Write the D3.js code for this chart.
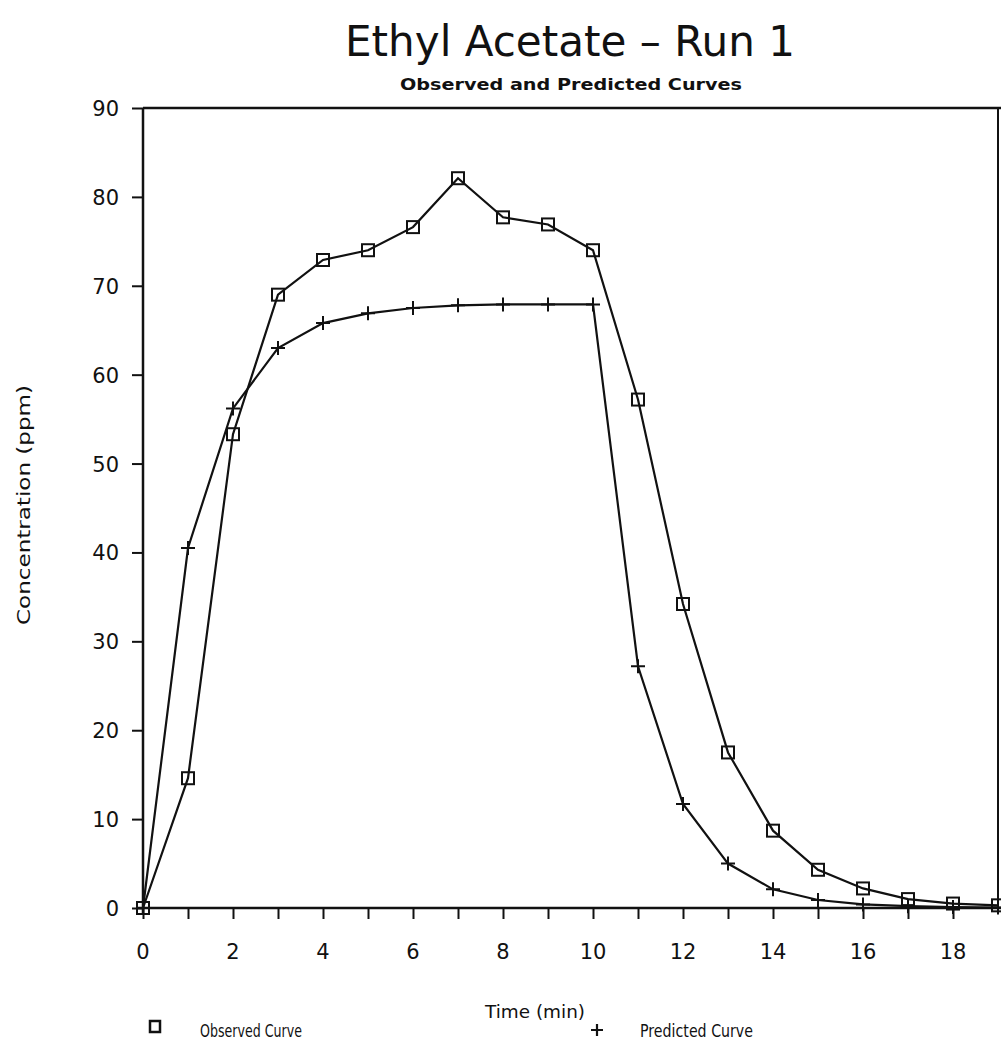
<!DOCTYPE html>
<html>
<head>
<meta charset="utf-8">
<script src="https://cdn.jsdelivr.net/npm/d3@7"></script>
<style>
  body { margin: 0; background: #fff; }
  text { fill: #111; font-family: "DejaVu Sans", sans-serif; }
</style>
</head>
<body>
<svg id="chart"></svg>
<script>
// Time points (min)
const times = [0, 1, 2, 3, 4, 5, 6, 7, 8, 9, 10, 11, 12, 13, 14, 15, 16, 17, 18, 19];
// Observed concentrations (ppm)
const observed = [0, 14.6, 53.3, 69.0, 72.9, 74.0, 76.6, 82.1, 77.7, 76.9, 74.0, 57.2, 34.2, 17.5, 8.7, 4.3, 2.2, 1.0, 0.5, 0.3];
// Predicted concentrations (ppm)
const predicted = [0, 40.5, 56.2, 63.0, 65.8, 66.9, 67.5, 67.8, 67.9, 67.9, 67.9, 27.2, 11.7, 5.0, 2.1, 0.9, 0.4, 0.2, 0.1, 0.05];

const xTicks = [0, 1, 2, 3, 4, 5, 6, 7, 8, 9, 10, 11, 12, 13, 14, 15, 16, 17, 18];
const xLabels = [0, 2, 4, 6, 8, 10, 12, 14, 16, 18];
const yTicks = [0, 10, 20, 30, 40, 50, 60, 70, 80, 90];

const config = {
    width: 1001,
    height: 1048,
    margin: { top: 108, right: 3, bottom: 140, left: 143 }
};

const innerW = config.width - config.margin.left - config.margin.right;
const innerH = config.height - config.margin.top - config.margin.bottom;

const svg = d3.select('#chart')
    .attr('width', config.width)
    .attr('height', config.height);

const chart = svg.append('g')
    .attr('transform', `translate(${config.margin.left},${config.margin.top})`);

// Scales
const xScale = d3.scaleLinear().domain([0, 19]).range([0, innerW]);
const yScale = d3.scaleLinear().domain([0, 90]).range([innerH, 0]);

// Frame (top and right sides)
chart.append('line')
    .attr('x1', 0).attr('x2', innerW + 3)
    .attr('y1', 0).attr('y2', 0)
    .attr('stroke', '#111').attr('stroke-width', 2.5);
chart.append('line')
    .attr('x1', innerW).attr('x2', innerW)
    .attr('y1', 0).attr('y2', innerH)
    .attr('stroke', '#111').attr('stroke-width', 2);

// Axes (tick marks only, labels added below)
const xAxis = d3.axisBottom(xScale)
    .tickValues(xTicks)
    .tickSize(11)
    .tickFormat('');
const yAxis = d3.axisLeft(yScale)
    .tickValues(yTicks)
    .tickSize(11)
    .tickFormat('');

const xAxisG = chart.append('g')
    .attr('transform', `translate(0,${innerH})`)
    .call(xAxis);
const yAxisG = chart.append('g').call(yAxis);

[xAxisG, yAxisG].forEach(g => {
    g.select('.domain').remove();
    g.selectAll('.tick line').attr('stroke', '#111').attr('stroke-width', 2);
});

// axis lines drawn separately so they run to the edge
chart.append('line')
    .attr('x1', -6).attr('x2', innerW + 3)
    .attr('y1', innerH).attr('y2', innerH)
    .attr('stroke', '#111').attr('stroke-width', 2.5);
chart.append('line')
    .attr('x1', 0).attr('x2', 0)
    .attr('y1', 0).attr('y2', innerH + 6)
    .attr('stroke', '#111').attr('stroke-width', 2.5);

// Tick labels
chart.selectAll('.x-label')
    .data(xLabels)
    .join('text')
    .attr('class', 'x-label')
    .attr('x', d => xScale(d))
    .attr('y', innerH + 51)
    .attr('text-anchor', 'middle')
    .attr('font-size', 21)
    .text(d => d);

chart.selectAll('.y-label')
    .data(yTicks)
    .join('text')
    .attr('class', 'y-label')
    .attr('x', -24)
    .attr('y', d => yScale(d) + 8)
    .attr('text-anchor', 'end')
    .attr('font-size', 21)
    .text(d => d);

// Lines
const line = d3.line()
    .x((d, i) => xScale(times[i]))
    .y(d => yScale(d));

chart.append('path')
    .datum(observed)
    .attr('fill', 'none')
    .attr('stroke', '#111')
    .attr('stroke-width', 2.2)
    .attr('d', line);

chart.append('path')
    .datum(predicted)
    .attr('fill', 'none')
    .attr('stroke', '#111')
    .attr('stroke-width', 2.2)
    .attr('d', line);

// Markers
const sq = 12;
chart.selectAll('.obs')
    .data(observed)
    .join('rect')
    .attr('class', 'obs')
    .attr('x', (d, i) => xScale(times[i]) - sq / 2)
    .attr('y', d => yScale(d) - sq / 2)
    .attr('width', sq).attr('height', sq)
    .attr('fill', 'none')
    .attr('stroke', '#111')
    .attr('stroke-width', 2);

const pl = 7;
chart.selectAll('.pred')
    .data(predicted)
    .join('path')
    .attr('class', 'pred')
    .attr('d', (d, i) => {
        const x = xScale(times[i]), y = yScale(d);
        return `M${x - pl},${y}H${x + pl}M${x},${y - pl}V${y + pl}`;
    })
    .attr('stroke', '#111')
    .attr('stroke-width', 2);

// Titles
svg.append('text')
    .attr('x', 570).attr('y', 56)
    .attr('text-anchor', 'middle')
    .attr('font-size', 43)
    .attr('textLength', 450).attr('lengthAdjust', 'spacingAndGlyphs')
    .text('Ethyl Acetate – Run 1');

svg.append('text')
    .attr('x', 571).attr('y', 90)
    .attr('text-anchor', 'middle')
    .attr('font-size', 16)
    .attr('font-weight', 'bold')
    .attr('textLength', 342).attr('lengthAdjust', 'spacingAndGlyphs')
    .text('Observed and Predicted Curves');

// Axis titles
svg.append('text')
    .attr('transform', 'translate(30,505) rotate(-90)')
    .attr('text-anchor', 'middle')
    .attr('font-size', 18)
    .attr('textLength', 240).attr('lengthAdjust', 'spacingAndGlyphs')
    .text('Concentration (ppm)');

svg.append('text')
    .attr('x', 535).attr('y', 1018)
    .attr('text-anchor', 'middle')
    .attr('font-size', 18)
    .attr('textLength', 100).attr('lengthAdjust', 'spacingAndGlyphs')
    .text('Time (min)');

// Legend
svg.append('rect')
    .attr('x', 150).attr('y', 1021)
    .attr('width', 10).attr('height', 11)
    .attr('fill', 'none').attr('stroke', '#111').attr('stroke-width', 2.5);
svg.append('text')
    .attr('x', 200).attr('y', 1037)
    .attr('font-size', 18)
    .attr('textLength', 102).attr('lengthAdjust', 'spacingAndGlyphs')
    .text('Observed Curve');

svg.append('path')
    .attr('d', 'M591,1030H603M597,1024V1036')
    .attr('stroke', '#111').attr('stroke-width', 2.2);
svg.append('text')
    .attr('x', 640).attr('y', 1037)
    .attr('font-size', 18)
    .attr('textLength', 113).attr('lengthAdjust', 'spacingAndGlyphs')
    .text('Predicted Curve');
</script>
</body>
</html>
